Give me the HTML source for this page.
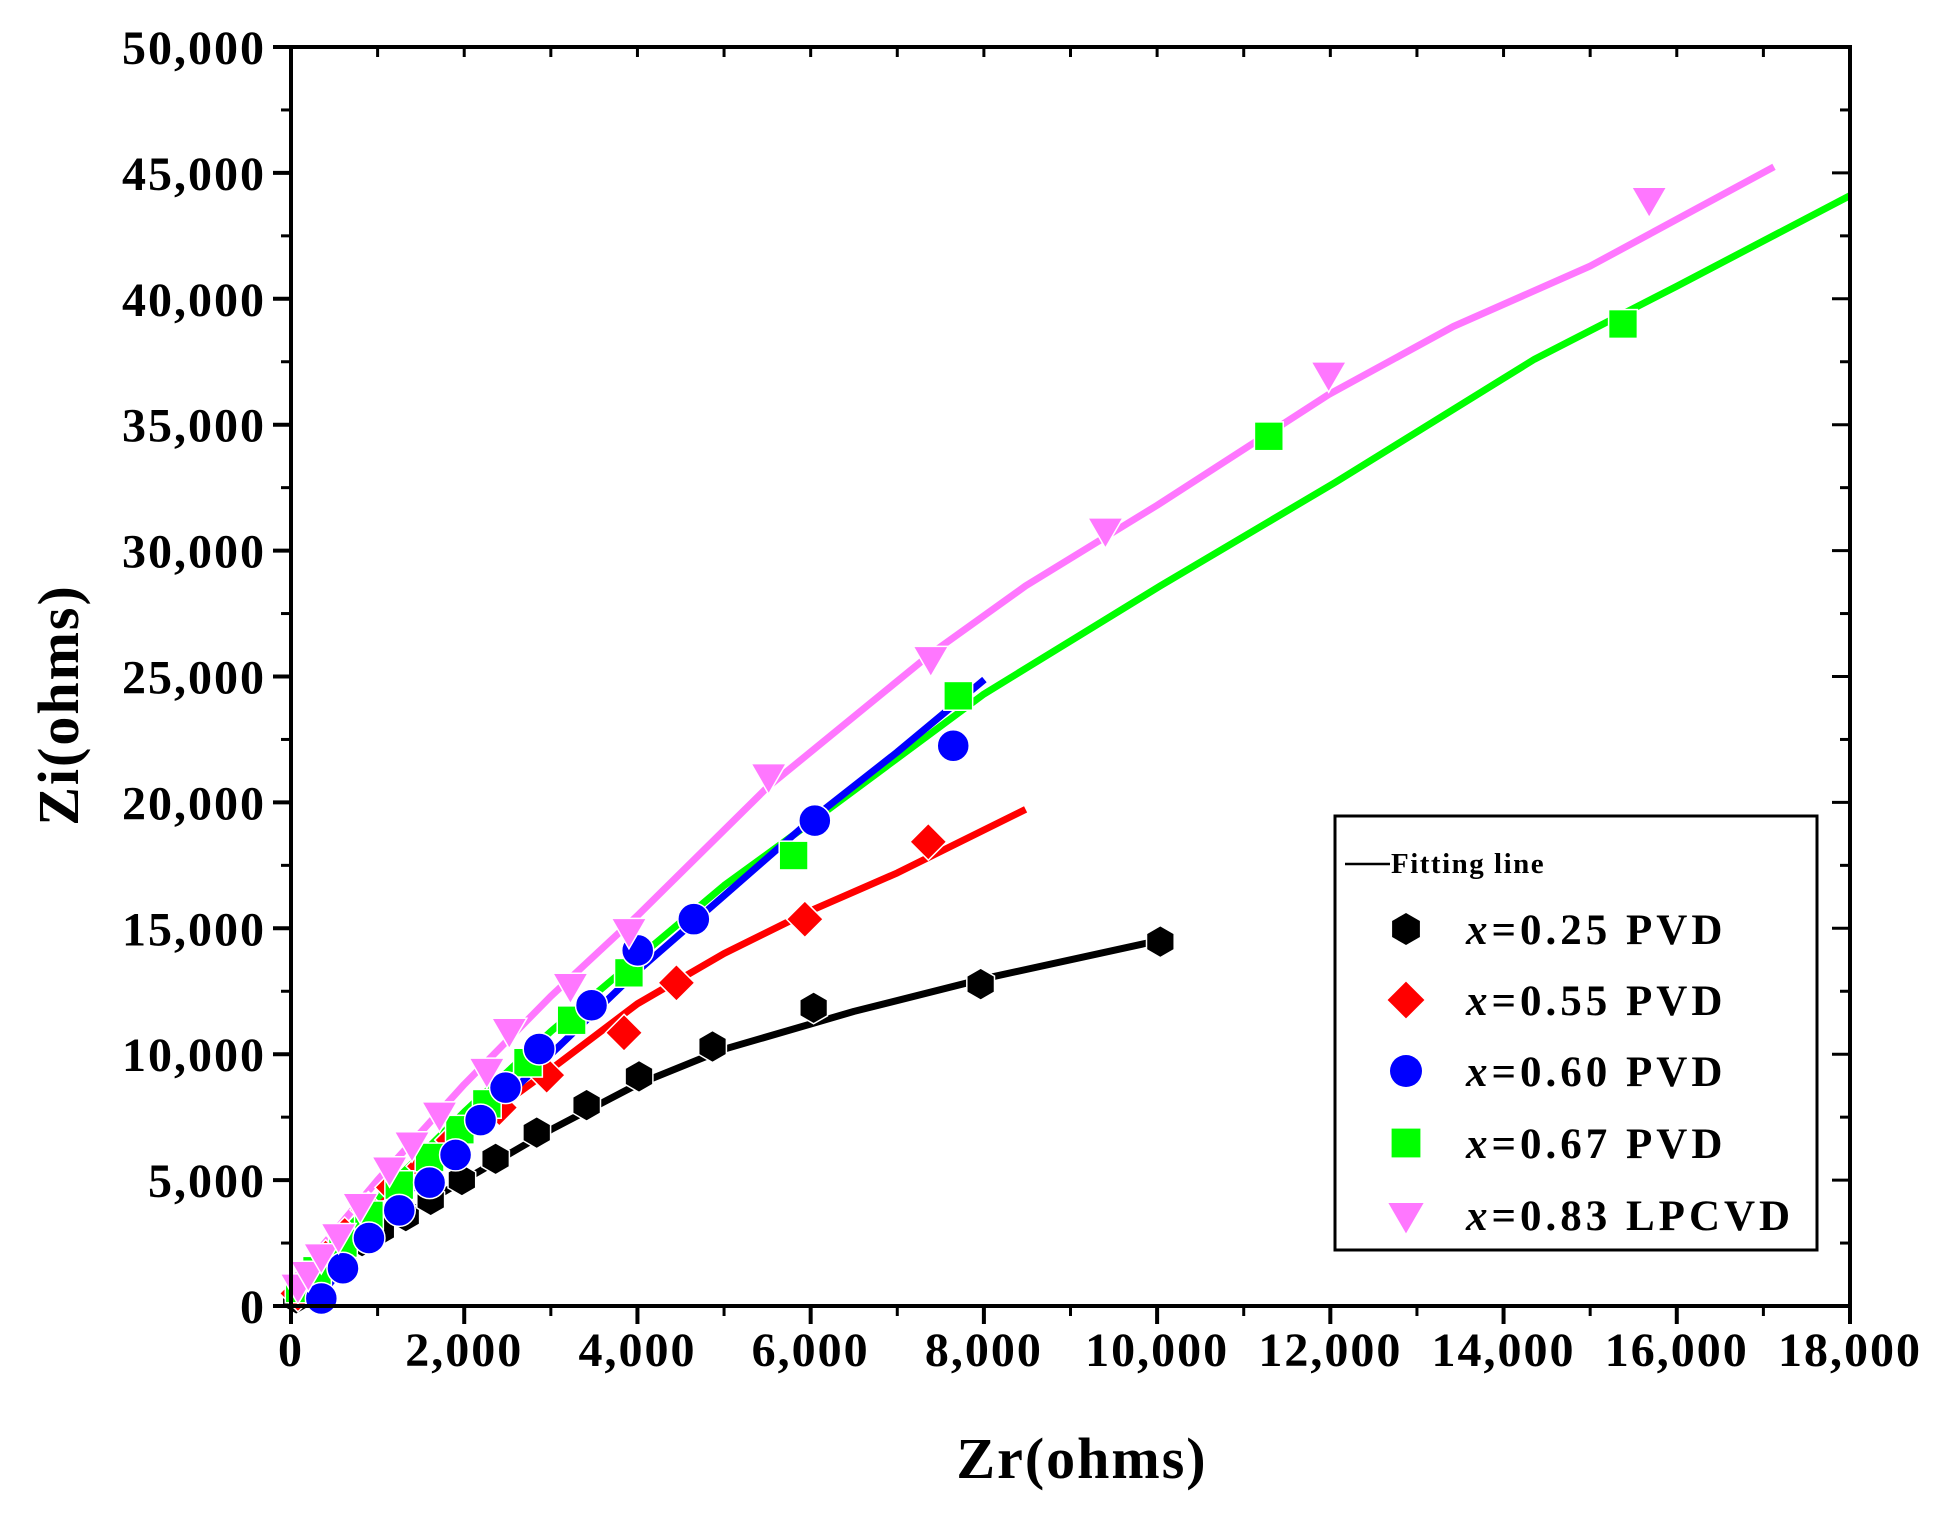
<!DOCTYPE html>
<html><head><meta charset="utf-8"><style>
html,body{margin:0;padding:0;background:#fff;}
svg{display:block;font-family:"Liberation Serif",serif;font-weight:bold;}
</style></head><body>
<svg id="chart" width="1956" height="1528" viewBox="0 0 1956 1528" xmlns="http://www.w3.org/2000/svg">
<g id="fits"></g>
<g id="marks"></g>
<g id="axes"></g>
<text transform="translate(78,705) rotate(-90)" text-anchor="middle" font-size="58" letter-spacing="2">Zi(ohms)</text>
<text x="1082" y="1478" text-anchor="middle" font-size="58" letter-spacing="2">Zr(ohms)</text>
<g>
<rect x="1335" y="816" width="482" height="434" fill="#fff" stroke="#000" stroke-width="3"/>
<line x1="1345" y1="864" x2="1390" y2="864" stroke="#000" stroke-width="2.5"/>
<text x="1391" y="873" font-size="29" letter-spacing="1.5">Fitting line</text>
<g id="legend-items"></g>
</g>
</svg>
<script>
const X0=291,X1=1850,Y0=1306,Y1=47,XMAX=18000,YMAX=50000;
function sx(v){return X0+v/XMAX*(X1-X0);}
function sy(v){return Y0-v/YMAX*(Y0-Y1);}
const xTicks=[0,2000,4000,6000,8000,10000,12000,14000,16000,18000];
const yTicks=[0,5000,10000,15000,20000,25000,30000,35000,40000,45000,50000];
const seriesNames=["x=0.25 PVD","x=0.55 PVD","x=0.60 PVD","x=0.67 PVD","x=0.83 LPCVD"];
const seriesColors=["#000000","#ff0000","#0000ff","#00ff00","#ff77ff"];
const seriesShapes=["hex","diamond","circle","square","tri"];
// data points
const blackX=[60,130,245,418,605,821,1037,1325,1613,1973,2362,2837,3413,4018,4867,6034,7963,10037];
const blackY=[300,694,1090,1586,2081,2577,3023,3568,4212,5005,5847,6888,7978,9118,10307,11844,12785,14470];
const redX=[80,200,400,620,893,1181,1541,1872,2405,2952,3845,4450,5933,7358];
const redY=[500,1000,1900,2800,3816,4708,5550,6591,7880,9168,10853,12835,15362,18435];
const blueX=[350,600,900,1250,1600,1900,2189,2477,2866,3470,4003,4651,6048,7646];
const blueY=[300,1500,2700,3800,4900,6000,7384,8672,10208,11943,14123,15362,19277,22250];
const greenX=[100,300,600,900,1250,1600,1950,2261,2736,3240,3902,5803,7704,11290,15379];
const greenY=[700,1400,2500,3600,4800,5900,7000,8028,9664,11348,13231,17889,24232,34540,39000];
const pinkX=[80,200,350,550,800,1138,1397,1714,2261,2520,3226,3902,5515,7387,9403,11981,15681];
const pinkY=[800,1300,2000,2800,4000,5451,6442,7631,9366,10952,12736,14916,21061,25719,30823,37017,43954];
// fitting lines
const fitBlackX=[0,500,1000,2000,3000,4000,5000,6500,8000,10000];
const fitBlackY=[700,2000,3000,5000,7000,8800,10200,11700,13000,14500];
const fitRedX=[0,1000,2000,3000,4000,5000,6000,7000,8482];
const fitRedY=[800,4200,6900,9400,12000,14000,15700,17200,19723];
const fitBlueX=[245,1000,2000,3000,4000,5000,6000,7000,8006];
const fitBlueY=[0,3300,6700,10000,13300,16300,19300,22000,24876];
const fitGreenX=[0,1000,2000,3000,4000,5000,6000,8000,10037,12053,14357,16000,18000];
const fitGreenY=[800,4300,7700,10900,13800,16700,19200,24300,28600,32700,37600,40500,44100];
const fitPinkX=[0,1000,2000,3000,4000,5500,7387,8482,10000,11981,13420,15000,17122];
const fitPinkY=[900,5000,8800,12300,15500,20600,25900,28600,31800,36200,38900,41300,45243];

const NS="http://www.w3.org/2000/svg";
function el(tag,attrs,parent){const e=document.createElementNS(NS,tag);for(const k in attrs)e.setAttribute(k,attrs[k]);parent.appendChild(e);return e;}
const axes=document.getElementById('axes');
const frame=el('rect',{x:X0,y:Y1,width:X1-X0,height:Y0-Y1,fill:'none',stroke:'#000','stroke-width':4},axes);


for(let i=0;i<xTicks.length;i++){
  const v=xTicks[i],x=sx(v);
  const t=el('line',{x1:x,y1:Y0,x2:x,y2:Y0+18,stroke:'#000','stroke-width':4},axes);
  
  
  const tt=el('line',{x1:x,y1:Y1,x2:x,y2:Y1+10,stroke:'#000','stroke-width':3},axes);
  
  
  if(i<xTicks.length-1){
    const xm=sx(v+1000);
    const m=el('line',{x1:xm,y1:Y0,x2:xm,y2:Y0+10,stroke:'#000','stroke-width':3},axes);
    
    
    const mt=el('line',{x1:xm,y1:Y1,x2:xm,y2:Y1+10,stroke:'#000','stroke-width':3},axes);
    
    
  }
  const lb=el('text',{x:x,y:1366,'text-anchor':'middle','font-size':48,'letter-spacing':2},axes);
  lb.textContent=v.toLocaleString('en-US');
  
  
}
for(let i=0;i<yTicks.length;i++){
  const v=yTicks[i],y=sy(v);
  const t=el('line',{x1:X0-18,y1:y,x2:X0,y2:y,stroke:'#000','stroke-width':4},axes);
  
  
  const tr=el('line',{x1:X1-18,y1:y,x2:X1,y2:y,stroke:'#000','stroke-width':3},axes);
  
  
  if(i<yTicks.length-1){
    const ym=sy(v+2500);
    const m=el('line',{x1:X0-10,y1:ym,x2:X0,y2:ym,stroke:'#000','stroke-width':3},axes);
    
    
    const mr=el('line',{x1:X1-10,y1:ym,x2:X1,y2:ym,stroke:'#000','stroke-width':3},axes);
    
    
  }
  const lb=el('text',{x:266,y:y+17,'text-anchor':'end','font-size':48,'letter-spacing':2},axes);
  lb.textContent=v.toLocaleString('en-US');
  
  
}
function marker(shape,cx,cy,color,parent,r){
  let e;
  if(shape==='hex'){let p=[];for(let k=0;k<6;k++){const a=Math.PI/6+k*Math.PI/3;p.push((cx+r*Math.cos(a)).toFixed(1)+','+(cy+r*Math.sin(a)).toFixed(1));}e=el('polygon',{points:p.join(' ')},parent);}
  else if(shape==='diamond'){e=el('polygon',{points:`${cx},${cy-r*1.15} ${cx+r*1.15},${cy} ${cx},${cy+r*1.15} ${cx-r*1.15},${cy}`},parent);}
  else if(shape==='circle'){e=el('circle',{cx:cx,cy:cy,r:r},parent);}
  else if(shape==='square'){e=el('rect',{x:cx-r*0.9,y:cy-r*0.9,width:r*1.8,height:r*1.8},parent);}
  else {e=el('polygon',{points:`${cx-r*1.1},${cy-r*0.75} ${cx+r*1.1},${cy-r*0.75} ${cx},${cy+r*1.15}`},parent);}
  e.setAttribute('fill',color);
  return e;
}
const fits=document.getElementById('fits'),marks=document.getElementById('marks');
const fitSets=[[fitBlackX,fitBlackY],[fitRedX,fitRedY],[fitBlueX,fitBlueY],[fitGreenX,fitGreenY],[fitPinkX,fitPinkY]];
const ptSets=[[blackX,blackY],[redX,redY],[blueX,blueY],[greenX,greenY],[pinkX,pinkY]];
const fitNames=['fit-line-x025','fit-line-x055','fit-line-x060','fit-line-x067','fit-line-x083'];
const ptNames=['point-x025','point-x055','point-x060','point-x067','point-x083'];
const order=[0,1,3,2,4];
for(const s of order){
  const [xs,ys]=ptSets[s];
  for(let i=0;i<xs.length;i++){
    const m=marker(seriesShapes[s],sx(xs[i]),sy(ys[i]),seriesColors[s],marks,16);
    m.setAttribute('stroke','#fff');m.setAttribute('stroke-width','1.5');
    
    
  }
}
for(const s of order){
  const [xs,ys]=fitSets[s];
  const d=xs.map((v,i)=>(i?'L':'M')+sx(v).toFixed(1)+','+sy(ys[i]).toFixed(1)).join(' ');
  const p=el('path',{d:d,fill:'none',stroke:seriesColors[s],'stroke-width':7,'stroke-linejoin':'round'},fits);
  
  
}
const lg=document.getElementById('legend-items');
const legY=[929,1000,1071,1143,1215];
for(let i=0;i<5;i++){
  const m=marker(seriesShapes[i],1406,legY[i],seriesColors[i],lg,16);
  
  
  const t=el('text',{x:1466,y:legY[i]+15,'font-size':43,'letter-spacing':4},lg);
  t.innerHTML='<tspan font-style="italic">x</tspan>'+seriesNames[i].slice(1);
  
  
}
</script>
</body></html>
